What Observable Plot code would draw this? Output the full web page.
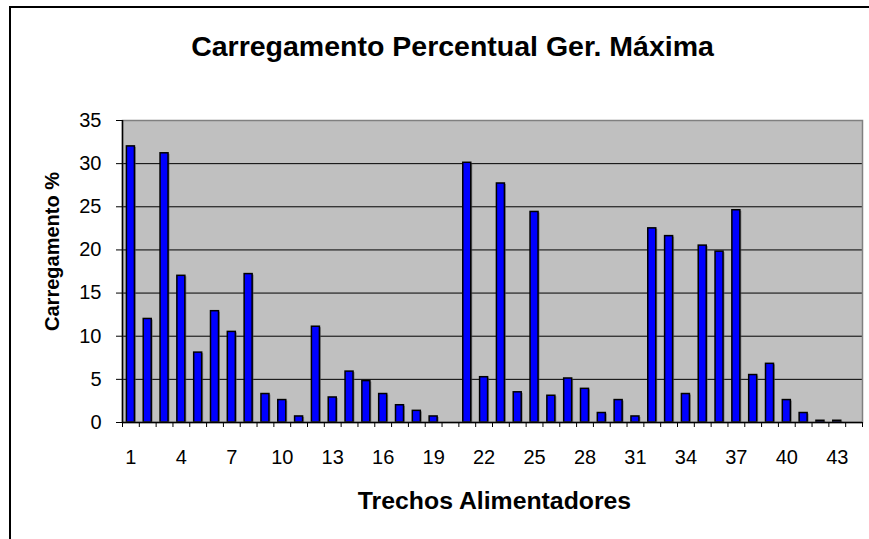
<!DOCTYPE html>
<html>
<head>
<meta charset="utf-8">
<script src="https://cdn.jsdelivr.net/npm/d3@7"></script>
<script src="https://cdn.jsdelivr.net/npm/@observablehq/plot@0.6"></script>
<style>
  html, body { margin: 0; padding: 0; background: #fff; }
  #wrap { position: relative; width: 869px; height: 539px; overflow: hidden; }
  #border { position: absolute; left: 9px; top: 6px; right: -5px; bottom: -5px;
            border-left: 2px solid #000; border-top: 2px solid #000; pointer-events: none; }
</style>
</head>
<body>
<div id="wrap"><div id="border"></div></div>
<script>
const trechos = d3.range(1, 45);
const carregamento = [32.0, 12.0, 31.2, 17.0, 8.1, 12.9, 10.5, 17.2, 3.3, 2.6,
  0.7, 11.1, 2.9, 5.9, 4.8, 3.3, 2.0, 1.35, 0.7, null,
  30.1, 5.25, 27.7, 3.5, 24.4, 3.1, 5.1, 3.9, 1.1, 2.6,
  0.7, 22.5, 21.6, 3.3, 20.5, 19.8, 24.6, 5.5, 6.8, 2.6,
  1.1, 0.2, 0.2, null];
const xTickLabels = [1, 4, 7, 10, 13, 16, 19, 22, 25, 28, 31, 34, 37, 40, 43];
const yTicks = [0, 5, 10, 15, 20, 25, 30, 35];
const titulo = "Carregamento Percentual Ger. Máxima";
const xTitulo = "Trechos Alimentadores";
const yTitulo = "Carregamento %";

const data = trechos.map((t, i) => ({t, v: carregamento[i]})).filter(d => d.v != null);
const boundaries = d3.range(0.5, 45, 1);

const W = 869, H = 539, mL = 122, mR = 7, mT = 120, mB = 117;
const step = (W - mL - mR) / trechos.length;
const inset = (step - 8) / 2;

const chart = Plot.plot({
  width: W, height: H,
  marginLeft: mL, marginRight: mR, marginTop: mT, marginBottom: mB,
  style: {fontFamily: "'Liberation Sans', Arial, sans-serif", fontSize: "20px", color: "#000", background: "transparent"},
  x: {type: "linear", domain: [0.5, trechos.length + 0.5]},
  y: {domain: [0, 35]},
  marks: [
    Plot.frame({fill: "#C0C0C0"}),
    Plot.gridY(yTicks, {stroke: "#000", strokeOpacity: 1, strokeWidth: 1}),
    Plot.rectY(data, {x1: d => d.t - 0.5, x2: d => d.t + 0.5, y: "v", insetLeft: inset, insetRight: inset,
      fill: "#555", fillOpacity: 0.6, dx: 1.5, dy: 1}),
    Plot.rectY(data, {x1: d => d.t - 0.5, x2: d => d.t + 0.5, y: "v", insetLeft: inset, insetRight: inset,
      fill: "#0000FF", stroke: "#000", strokeWidth: 1.5}),
    Plot.frame({stroke: "#808080", strokeWidth: 1.5}),
    Plot.ruleY([0], {stroke: "#000", strokeWidth: 1.5}),
    Plot.ruleX([0.5], {stroke: "#000", strokeWidth: 1.5}),
    Plot.axisY(yTicks, {tickSize: 6, tickPadding: 15, fontSize: 20, label: null, stroke: "#000"}),
    Plot.axisX(boundaries, {tickSize: 5, tickFormat: () => "", label: null, stroke: "#000"}),
    Plot.axisX(xTickLabels, {tickSize: 0, tickPadding: 27, fontSize: 20, label: null}),
    Plot.text([titulo], {frameAnchor: "top", lineAnchor: "middle", dx: -40, dy: -74, fontSize: 28.5, fontWeight: "bold"}),
    Plot.text([xTitulo], {frameAnchor: "bottom", lineAnchor: "middle", dx: 2, dy: 79, fontSize: 24.8, fontWeight: "bold"}),
    Plot.text([yTitulo], {frameAnchor: "left", lineAnchor: "middle", textAnchor: "middle", dx: -70, dy: -20, rotate: -90, fontSize: 20, fontWeight: "bold"})
  ]
});
document.getElementById("wrap").prepend(chart);
</script>
</body>
</html>
